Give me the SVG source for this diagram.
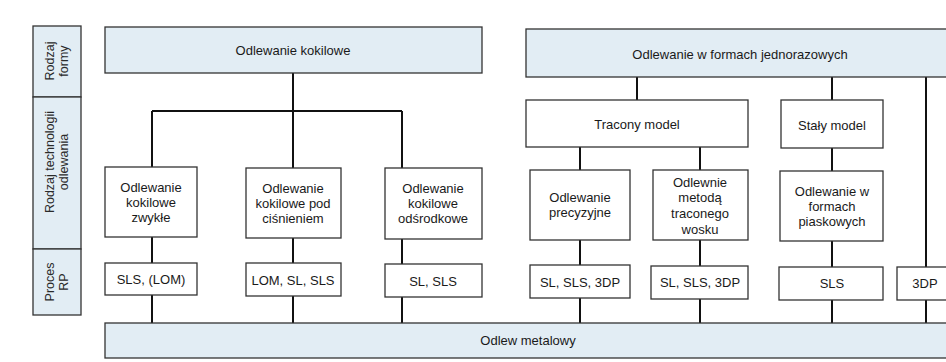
<svg xmlns="http://www.w3.org/2000/svg" width="946" height="362" viewBox="0 0 946 362">
<style>
.bg{fill:#ffffff}
.band{fill:#e2edf4;stroke:#333;stroke-width:1.3}
.box{fill:#ffffff;stroke:#333;stroke-width:1.3}
.t{font-family:"Liberation Sans",Arial,sans-serif;font-size:13px;fill:#1a1a1a;text-anchor:middle;dominant-baseline:central}
.s{font-family:"Liberation Sans",Arial,sans-serif;font-size:12.5px;fill:#2a2a2a;text-anchor:middle;dominant-baseline:central}
.c{stroke:#111;stroke-width:2;fill:none}
</style>
<rect class="bg" x="0" y="0" width="946" height="362"/>
<g id="legend">
<rect class="band" x="33" y="26" width="48" height="71"/>
<text class="s" transform="translate(57,61) rotate(-90)"><tspan x="0" dy="-7">Rodzaj</tspan><tspan x="0" dy="14">formy</tspan></text>
<rect class="band" x="33" y="97" width="48" height="152"/>
<text class="s" transform="translate(57,162) rotate(-90)"><tspan x="0" dy="-7">Rodzaj technologii</tspan><tspan x="0" dy="14">odlewania</tspan></text>
<rect class="band" x="33" y="249" width="48" height="66"/>
<text class="s" transform="translate(57,282) rotate(-90)"><tspan x="0" dy="-7">Proces</tspan><tspan x="0" dy="14">RP</tspan></text>
</g>
<g id="connectors">
<path class="c" d="M293 73V111M152 111H402M152 111V167M293 111V168M402 111V168"/>
<path class="c" d="M637 77V100M832 77V100M926 77V267"/>
<path class="c" d="M580 147V170M700 147V170M832 148V171"/>
<path class="c" d="M152 237V263M293 238V263M402 239V264M580 240V265M700 240V266M832 241V267"/>
<path class="c" d="M152 295V323M293 296V323M402 297V323M580 298V324M700 299V324M832 300V325M926 300V325"/>
</g>
<g id="kokilowe">
<rect class="band" x="105" y="27" width="377" height="46"/>
<text class="t" x="293" y="50">Odlewanie kokilowe</text>
</g>
<g id="jednorazowe">
<rect class="band" x="526" y="29" width="430" height="48"/>
<text class="t" x="740" y="54">Odlewanie w formach jednorazowych</text>
</g>
<g id="tracony">
<rect class="box" x="526" y="100" width="222" height="47"/>
<text class="t" x="637" y="124">Tracony model</text>
</g>
<g id="staly">
<rect class="box" x="781" y="100" width="102" height="48"/>
<text class="t" x="832" y="125">Stały model</text>
</g>
<g id="t1">
<rect class="box" x="105" y="167" width="92" height="70"/>
<text class="t" x="151" y="187">Odlewanie</text><text class="t" x="151" y="202">kokilowe</text><text class="t" x="151" y="217">zwykłe</text>
</g>
<g id="t2">
<rect class="box" x="246" y="168" width="95" height="70"/>
<text class="t" x="293" y="188">Odlewanie</text><text class="t" x="293" y="203">kokilowe pod</text><text class="t" x="293" y="218">ciśnieniem</text>
</g>
<g id="t3">
<rect class="box" x="385" y="168" width="97" height="71"/>
<text class="t" x="433" y="188">Odlewanie</text><text class="t" x="433" y="203">kokilowe</text><text class="t" x="433" y="218">odśrodkowe</text>
</g>
<g id="t4">
<rect class="box" x="530" y="170" width="100" height="70"/>
<text class="t" x="580" y="197">Odlewanie</text><text class="t" x="580" y="212">precyzyjne</text>
</g>
<g id="t5">
<rect class="box" x="653" y="170" width="95" height="70"/>
<text class="t" x="700" y="182">Odlewnie</text><text class="t" x="700" y="197">metodą</text><text class="t" x="700" y="213">traconego</text><text class="t" x="700" y="229">wosku</text>
</g>
<g id="t6">
<rect class="box" x="780" y="171" width="103" height="70"/>
<text class="t" x="832" y="191">Odlewanie w</text><text class="t" x="832" y="206">formach</text><text class="t" x="832" y="221">piaskowych</text>
</g>
<g id="r1"><rect class="box" x="105" y="263" width="92" height="32"/><text class="t" x="151" y="279">SLS, (LOM)</text></g>
<g id="r2"><rect class="box" x="246" y="263" width="95" height="33"/><text class="t" x="293" y="280">LOM, SL, SLS</text></g>
<g id="r3"><rect class="box" x="385" y="264" width="97" height="33"/><text class="t" x="433" y="281">SL, SLS</text></g>
<g id="r4"><rect class="box" x="530" y="265" width="100" height="33"/><text class="t" x="580" y="282">SL, SLS, 3DP</text></g>
<g id="r5"><rect class="box" x="651" y="266" width="97" height="33"/><text class="t" x="700" y="282">SL, SLS, 3DP</text></g>
<g id="r6"><rect class="box" x="779" y="267" width="104" height="33"/><text class="t" x="832" y="283">SLS</text></g>
<g id="r7"><rect class="box" x="897" y="267" width="60" height="33"/><text class="t" x="925" y="283">3DP</text></g>
<g id="odlew">
<rect class="band" x="105" y="323" width="851" height="35"/>
<text class="t" x="528" y="340">Odlew metalowy</text>
</g>
</svg>
